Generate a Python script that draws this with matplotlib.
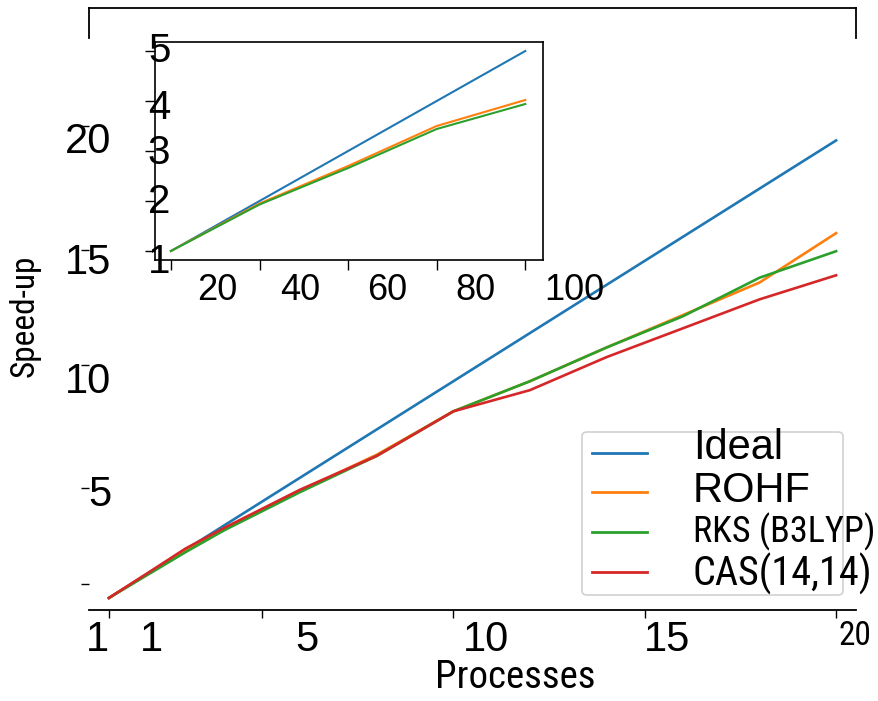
import matplotlib
matplotlib.use("Agg")
import matplotlib.pyplot as plt
import matplotlib.transforms as mtrans
from matplotlib.patches import FancyBboxPatch
from matplotlib.lines import Line2D

# ---- data ----
procs = [1, 2, 3, 4, 6, 8, 10, 12, 14, 16, 18, 20]
ideal = [1, 2, 3, 4, 6, 8, 10, 12, 14, 16, 18, 20]
rohf = [1, 2.0, 2.95, 3.85, 5.45, 6.95, 8.75, 10.0, 11.4, 12.75, 14.1, 16.15]
rks = [1, 1.95, 2.9, 3.8, 5.4, 6.9, 8.75, 10.0, 11.4, 12.7, 14.3, 15.4]
cas = [1, 2.02, 3.05, 3.9, 5.5, 6.9, 8.75, 9.63, 11.0, 12.2, 13.4, 14.4]

ins_x = [10, 30, 50, 70, 90]
ins_ideal = [1, 2, 3, 4, 5]
ins_rohf = [1, 1.95, 2.7, 3.5, 4.02]
ins_rks = [1, 1.93, 2.66, 3.44, 3.94]

series = ["Ideal", "ROHF", "RKS (B3LYP)", "CAS(14,14)"]
colors = ["#1f77b4", "#ff7f0e", "#2ca02c", "#d62728"]

# tick labels as they sit in the picture (slightly off the tick marks)
xlab_pos = [0.71, 2.12, 6.18, 10.85, 15.58, 20.5]
xlab_txt = ["1", "1", "5", "10", "15", "20"]
xtick_marks = [1, 5, 10, 15, 20]
ylab_pos = [5.48, 10.17, 15.1, 20.13]
ylab_txt = ["5", "10", "15", "20"]
ytick_marks = [1.58, 5.56, 10.67, 15.44, 20.6]

ins_ylab_pos = [0.86, 2.06, 3.04, 3.94, 5.08]
ins_ylab_txt = ["1", "2", "3", "4", "5"]
ins_ytick_marks = [1, 2, 3, 4, 5]
ins_xlab_pos = [20.4, 39.2, 58.8, 78.7, 101.1]
ins_xlab_txt = ["20", "40", "60", "80", "100"]

REG = ["Liberation Sans", "DejaVu Sans"]
NAR = ["Roboto Condensed", "Archivo Narrow", "Liberation Sans", "DejaVu Sans"]
plt.rcParams["font.family"] = REG

W, H = 879, 701
fig = plt.figure(figsize=(W / 100, H / 100), dpi=100)

def px_box(l, t, r, b):
    return [l / W, 1 - b / H, (r - l) / W, (b - t) / H]

# ---- main axes ----
ax = fig.add_axes(px_box(89, 8, 856, 610))
for lab, col, y in zip(series, colors, [ideal, rohf, rks, cas]):
    ax.plot(procs, y, color=col, lw=1.9, label=lab)
ax.set_xlim(0.48, 20.52)
ax.set_ylim(0.5, 25.5)

for s in ["left", "right"]:
    ax.spines[s].set_bounds(24.25, 25.5)
    ax.spines[s].set_linewidth(1.3)
ax.spines["top"].set_linewidth(1.3)
ax.spines["bottom"].set_linewidth(1.3)

ax.set_xticks(xlab_pos, xlab_txt)
ax.set_xticks(xtick_marks, minor=True)
ax.set_yticks(ylab_pos, ylab_txt)
ax.set_yticks(ytick_marks, minor=True)
ax.tick_params(axis="x", which="major", length=0, pad=7, labelsize=30)
ax.tick_params(axis="y", which="major", length=0, pad=-16, labelsize=30)
ax.tick_params(which="minor", length=6, width=1, direction="out")
ax.xaxis.get_major_ticks()[-1].label1.set_fontsize(24)
ax.xaxis.get_major_ticks()[-1].label1.set_family(NAR)

# ---- inset ----
ins = fig.add_axes(px_box(155, 42, 543, 260))
for col, y in zip(colors[:3], [ins_ideal, ins_rohf, ins_rks]):
    ins.plot(ins_x, y, color=col, lw=1.5)
ins.set_xlim(6.4, 94)
ins.set_ylim(0.82, 5.18)
for s in ins.spines.values():
    s.set_linewidth(1.2)
ins.set_xticks(ins_x, minor=True)
ins.set_xticks([])
ins.set_yticks(ins_ylab_pos, ins_ylab_txt)
ins.set_yticks(ins_ytick_marks, minor=True)
ins.tick_params(axis="y", which="major", length=0, pad=-11, labelsize=29)
ins.tick_params(which="minor", length=7, width=1, direction="out")
tr = mtrans.blended_transform_factory(ins.transData, ins.transAxes)
for xp, t in zip(ins_xlab_pos, ins_xlab_txt):
    ins.text(xp, -0.138, t, transform=tr, ha="center", va="center",
             fontsize=26, clip_on=False)

# ---- legend, drawn by hand so the text can run past the frame ----
lx0, ly0, lx1, ly1 = 582, 432, 843, 595
box = FancyBboxPatch((lx0 / W, 1 - ly1 / H), (lx1 - lx0) / W, (ly1 - ly0) / H,
                     boxstyle="round,pad=0,rounding_size=0.006",
                     transform=fig.transFigure, facecolor="white",
                     edgecolor="#cccccc", lw=1.2, alpha=0.9, zorder=5)
fig.add_artist(box)
row_y = [453, 492, 532, 572]
txt_y = [448, 491, 532, 574]
fonts = [(REG, 30), (REG, 30), (NAR, 26), (NAR, 29)]
for lab, col, ry, ty, (fam, fs) in zip(series, colors, row_y, txt_y, fonts):
    fig.add_artist(Line2D([592 / W, 647 / W], [1 - ry / H, 1 - ry / H],
                          color=col, lw=2, transform=fig.transFigure, zorder=6))
    fig.text(693 / W, 1 - ty / H, lab, ha="left", va="center",
             fontsize=fs, family=fam, zorder=7)

fig.text(515 / W, 1 - 678 / H, "Processes", ha="center", va="center",
         fontsize=28, family=NAR)
fig.text(25 / W, 1 - 316 / H, "Speed-up", ha="center", va="center",
         rotation=90, fontsize=24, family=NAR)

fig.savefig("out.png", dpi=100)
plt.close(fig)
